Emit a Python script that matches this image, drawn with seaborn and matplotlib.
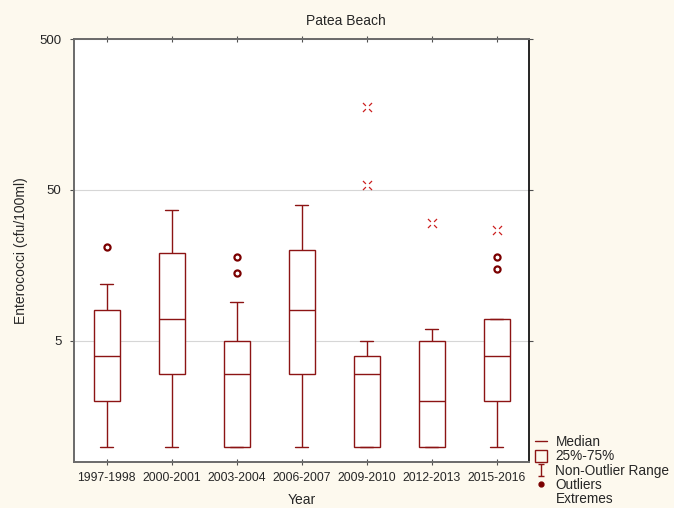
import numpy as np
import pandas as pd
import seaborn as sns
from matplotlib import pyplot as plt
from matplotlib.lines import Line2D
from matplotlib.path import Path
from matplotlib.ticker import FixedLocator, NullLocator

# values (cfu/100ml)
years = ["1997-1998", "2000-2001", "2003-2004", "2006-2007", "2009-2010", "2012-2013", "2015-2016"]
whisker_low = [1, 1, 1, 1, 1, 1, 1]
q1 = [2, 3, 1, 3, 1, 1, 2]
median = [4, 7, 3, 8, 3, 2, 4]
q3 = [8, 19, 5, 20, 4, 5, 7]
whisker_high = [12, 37, 9, 40, 5, 6, 7]

outlier_years = ["1997-1998", "2003-2004", "2003-2004", "2015-2016", "2015-2016"]
outlier_values = [21, 18, 14, 18, 15]

extreme_years = ["2009-2010", "2009-2010", "2012-2013", "2015-2016"]
extreme_values = [178, 54, 30, 27]

y_ticks = [5, 50, 500]

box_color = "#8c1414"
outlier_color = "#7a0000"
extreme_color = "#cc1f1f"
bg_color = "#fdf9ee"

sns.set_theme(style="white")
plt.rcParams["font.family"] = ["Liberation Sans", "DejaVu Sans"]

# five rows per period: with whis=(0, 100) the box shows exactly these stats
box_df = pd.DataFrame({"Year": years * 5,
                       "value": whisker_low + q1 + median + q3 + whisker_high})
out_df = pd.DataFrame({"Year": outlier_years, "value": outlier_values})
ext_df = pd.DataFrame({"Year": extreme_years, "value": extreme_values})

fig = plt.figure(figsize=(6.74, 5.08), dpi=100, facecolor=bg_color)
ax = fig.add_axes([74 / 674, 1 - 462 / 508, 455 / 674, 423 / 508])
ax.set_facecolor("white")
ax.set_yscale("log")

sns.boxplot(data=box_df, x="Year", y="value", order=years, whis=(0, 100), width=0.4,
            color="white", linecolor=box_color, linewidth=1, saturation=1, ax=ax)

sns.stripplot(data=out_df, x="Year", y="value", order=years, jitter=False, marker="o",
              size=4.4, color="white", edgecolor=outlier_color, linewidth=1.6, ax=ax, zorder=4)

# extremes: an x with its centre cut out
ext_marker = Path([(0.35, 0.35), (1, 1), (-0.35, 0.35), (-1, 1),
                   (0.35, -0.35), (1, -1), (-0.35, -0.35), (-1, -1)],
                  [Path.MOVETO, Path.LINETO] * 4)
sns.stripplot(data=ext_df, x="Year", y="value", order=years, jitter=False, marker=ext_marker,
              size=6.5, color=extreme_color, edgecolor=extreme_color, linewidth=0.9, ax=ax, zorder=4)

ax.set_xlim(-0.5, len(years) - 0.5)
ax.set_ylim(0.79, 500)
ax.yaxis.set_major_locator(FixedLocator(y_ticks))
ax.yaxis.set_minor_locator(NullLocator())
ax.set_yticklabels([str(t) for t in y_ticks])

ax.grid(axis="y", color="#d6d6d6", linewidth=0.8)
ax.set_axisbelow(True)

ax.tick_params(axis="x", labelsize=8.8, bottom=True, top=True, direction="inout",
               length=4, width=0.8, color="#505050", pad=5)
ax.tick_params(axis="y", labelsize=9.5, left=True, right=True, direction="out",
               length=3, width=0.8, color="#505050", pad=6)

for side in ["left", "bottom", "top"]:
    ax.spines[side].set_color("#6a6a6a")
    ax.spines[side].set_linewidth(1.4)
ax.spines["right"].set_color("black")
ax.spines["right"].set_linewidth(1.2)

ax.set_xlabel("Year", fontsize=10, va="top")
ax.xaxis.set_label_coords(0.5, -0.073)
ax.set_ylabel("Enterococci (cfu/100ml)", fontsize=10)
ax.yaxis.set_label_coords(-0.101, 0.5)

fig.text(346 / 674, 1 - 21 / 508, "Patea Beach", ha="center", va="center", fontsize=10)

ibeam = Path([(-0.5, 1), (0.5, 1), (0, 1), (0, -1), (-0.5, -1), (0.5, -1)],
             [Path.MOVETO, Path.LINETO, Path.MOVETO, Path.LINETO, Path.MOVETO, Path.LINETO])
handles = [
    Line2D([], [], color=box_color, linewidth=1),
    Line2D([], [], linestyle="none", marker="s", markersize=9, markerfacecolor="none",
           markeredgecolor=box_color, markeredgewidth=1),
    Line2D([], [], linestyle="none", marker=ibeam, markersize=9, markerfacecolor="none",
           markeredgecolor=box_color, markeredgewidth=1),
    Line2D([], [], linestyle="none", marker="o", markersize=3.5, color=outlier_color),
    Line2D([], [], linestyle="none", marker="none"),
]
labels = ["Median", "25%-75%", "Non-Outlier Range", "Outliers", "Extremes"]
fig.legend(handles, labels, loc="upper left", bbox_to_anchor=(535 / 674, 1 - 435 / 508),
           frameon=False, fontsize=9.8, handlelength=0.9, handletextpad=0.6,
           labelspacing=0.02, borderpad=0, borderaxespad=0)

plt.savefig("out.png", dpi=100, facecolor=bg_color)
